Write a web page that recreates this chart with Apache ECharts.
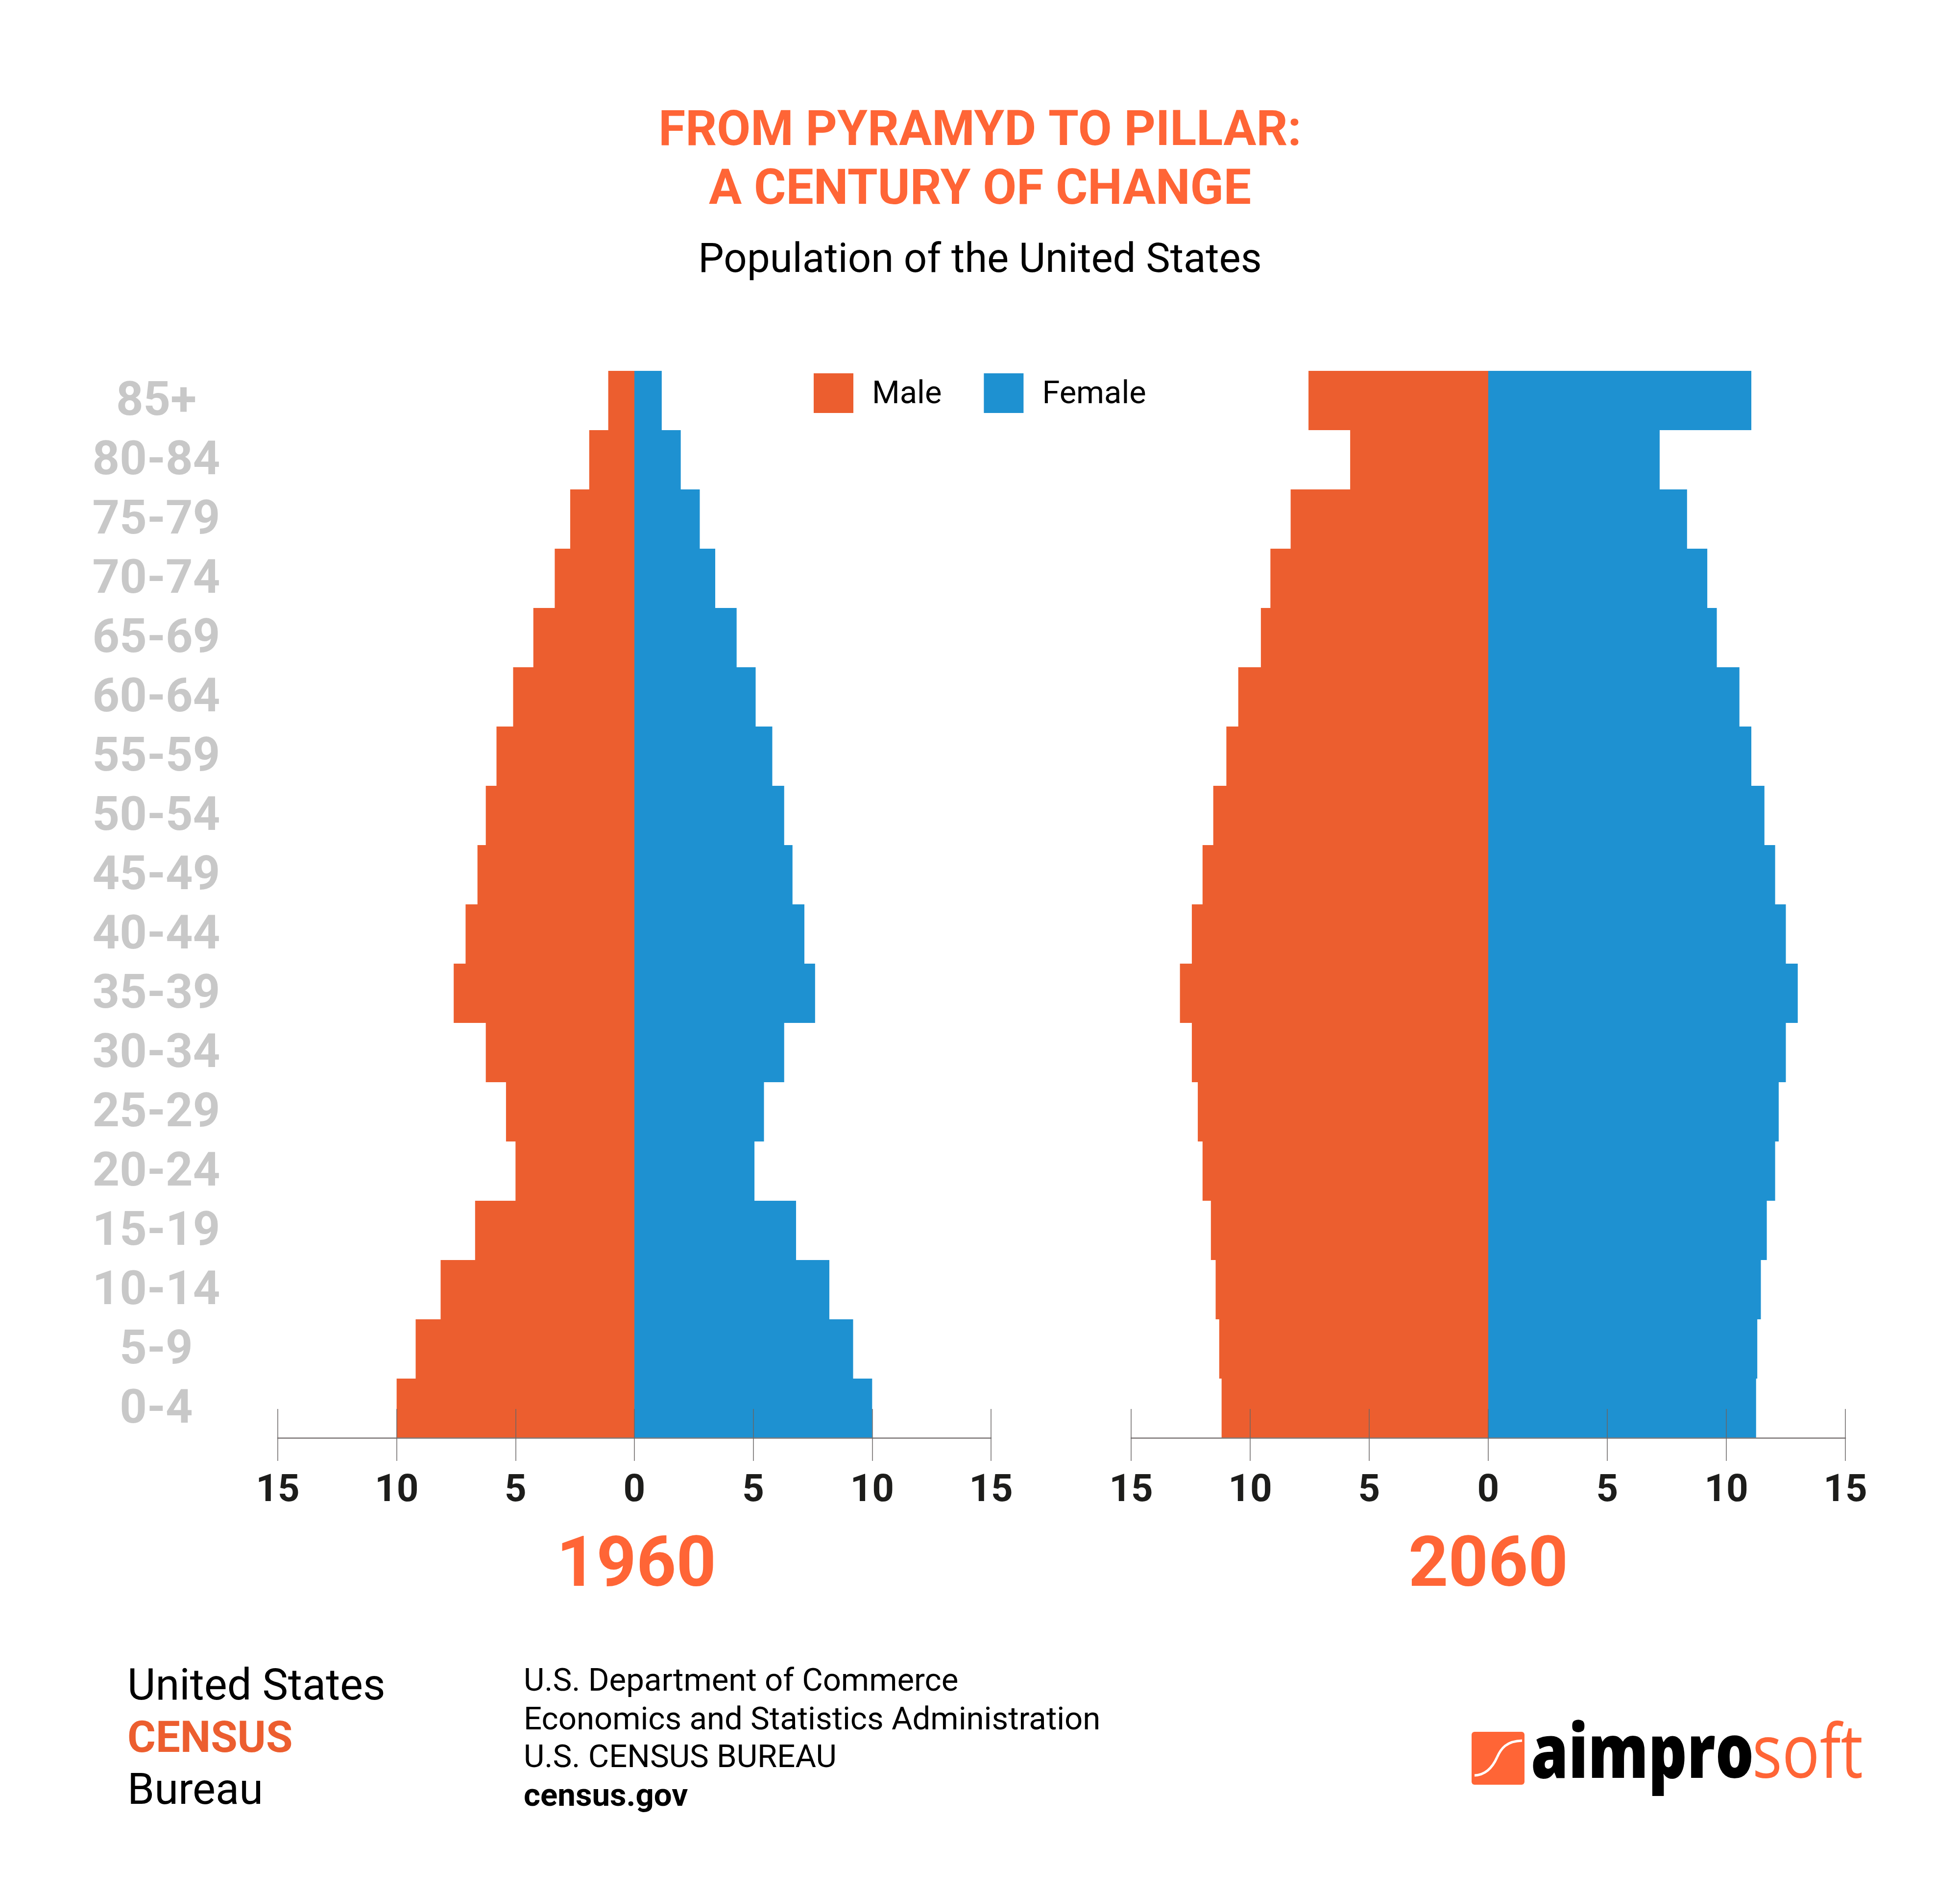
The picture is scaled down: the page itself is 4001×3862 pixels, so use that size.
<!DOCTYPE html>
<html>
<head>
<meta charset="utf-8">
<title>From pyramid to pillar</title>
<script src="https://cdn.jsdelivr.net/npm/echarts@6/dist/echarts.min.js"></script>
<style>
html, body { margin: 0; padding: 0; background: #fff; }
#main { width: 4001px; height: 3862px; }
</style>
</head>
<body>
<div id="main"></div>
<script>
var ageGroups = ['0-4', '5-9', '10-14', '15-19', '20-24', '25-29', '30-34', '35-39', '40-44',
    '45-49', '50-54', '55-59', '60-64', '65-69', '70-74', '75-79', '80-84', '85+'];

// percent of population, youngest group first
var male1960 = [10, 9.2, 8.15, 6.7, 5, 5.4, 6.25, 7.6, 7.1, 6.6, 6.25, 5.8, 5.1, 4.25, 3.35, 2.7, 1.9, 1.1];
var female1960 = [10, 9.2, 8.2, 6.8, 5.05, 5.45, 6.3, 7.6, 7.15, 6.65, 6.3, 5.8, 5.1, 4.3, 3.4, 2.75, 1.95, 1.15];
var male2060 = [11.2, 11.3, 11.45, 11.65, 12, 12.2, 12.45, 12.95, 12.45, 12, 11.55, 11, 10.5, 9.55, 9.15, 8.3, 5.8, 7.55];
var female2060 = [11.25, 11.3, 11.45, 11.7, 12.05, 12.2, 12.5, 13, 12.5, 12.05, 11.6, 11.05, 10.55, 9.6, 9.2, 8.35, 7.2, 11.05];

var years = ['1960', '2060'];
var seriesNames = ['Male', 'Female'];

var FONT = 'Roboto';
var ORANGE = '#ec5e2f';
var BLUE = '#1e91d1';
var TITLE_ORANGE = '#ff6536';

function negate(arr) {
    return arr.map(function (v) { return -v; });
}

function mainXAxis(gridIndex, year, namePad) {
    return {
        type: 'value',
        gridIndex: gridIndex,
        min: -15,
        max: 15,
        interval: 5,
        z: 5,
        name: year,
        nameLocation: 'middle',
        nameGap: 195,
        nameTextStyle: {
            color: TITLE_ORANGE,
            fontFamily: FONT,
            fontWeight: 'bold',
            fontSize: 142,
            padding: [0, 0, 0, namePad]
        },
        axisLine: { show: true, lineStyle: { color: '#7d7878', width: 2.5 } },
        axisTick: { show: true, length: 47, lineStyle: { color: '#6a6565', width: 1.5 } },
        axisLabel: {
            margin: 70,
            color: '#1d1d1b',
            fontFamily: FONT,
            fontWeight: 'bold',
            fontSize: 78,
            formatter: function (v) { return Math.abs(v); }
        },
        splitLine: { show: false }
    };
}

// same scale again, only to carry the upper half of the ticks
function upperTickAxis(gridIndex) {
    return {
        type: 'value',
        gridIndex: gridIndex,
        position: 'top',
        offset: -2178,
        min: -15,
        max: 15,
        interval: 5,
        z: 5,
        axisLine: { show: false },
        axisTick: { show: true, length: 59, lineStyle: { color: '#6a6565', width: 1.5 } },
        axisLabel: { show: false },
        splitLine: { show: false }
    };
}

function yAxis(gridIndex, showLabels) {
    return {
        type: 'category',
        gridIndex: gridIndex,
        data: ageGroups,
        axisLine: { show: false },
        axisTick: { show: false },
        splitLine: { show: false },
        axisLabel: {
            show: showLabels,
            interval: 0,
            margin: 248,
            align: 'center',
            verticalAlign: 'top',
            lineHeight: 10,   // labels sit a few px under the bar centre
            color: '#c8c8c8',
            fontFamily: FONT,
            fontWeight: 'bold',
            fontSize: 97
        }
    };
}

function barSeries(name, axisIndex, values, color) {
    return {
        name: name,
        type: 'bar',
        xAxisIndex: axisIndex * 2,
        yAxisIndex: axisIndex,
        stack: 'pop' + axisIndex,
        barWidth: '100%',
        barCategoryGap: 0,
        itemStyle: { color: color },
        data: values
    };
}

function plainText(x, y, text, size, weight, color) {
    return {
        type: 'text',
        x: x,
        y: y,
        style: {
            text: text,
            fontFamily: FONT,
            fontSize: size,
            fontWeight: weight,
            fill: color,
            verticalAlign: 'middle'
        }
    };
}

var myChart = echarts.init(document.getElementById('main'), null, { renderer: 'canvas', width: 4001, height: 3862 });

myChart.setOption({
    backgroundColor: '#fff',
    animation: false,
    title: [
        {
            text: 'FROM PYRAMYD TO PILLAR:\nA CENTURY OF CHANGE',
            left: 'center',
            top: 206,
            textStyle: { color: TITLE_ORANGE, fontFamily: FONT, fontWeight: 'bold', fontSize: 100, lineHeight: 120 }
        },
        {
            text: 'Population of the United States',
            left: 'center',
            top: 488,
            textStyle: { color: '#000', fontFamily: FONT, fontWeight: 'normal', fontSize: 83.3 }
        }
    ],
    legend: {
        data: seriesNames,
        left: 1656,
        top: 757,
        icon: 'rect',
        itemWidth: 81,
        itemHeight: 81,
        itemGap: 86,
        selectedMode: false,
        formatter: '{t|{name}}',
        textStyle: {
            color: '#000',
            fontFamily: FONT,
            fontSize: 65,
            padding: [0, 0, 0, 33],
            rich: { t: { fontFamily: FONT, fontSize: 65, color: '#000', padding: [8, 0, 0, 0] } }
        }
    },
    grid: [
        { left: 567, width: 1456, top: 757, height: 2178 },
        { left: 2309, width: 1458, top: 757, height: 2178 }
    ],
    xAxis: [mainXAxis(0, years[0], 8), upperTickAxis(0), mainXAxis(1, years[1], 0), upperTickAxis(1)],
    yAxis: [yAxis(0, true), yAxis(1, false)],
    series: [
        barSeries(seriesNames[0], 0, negate(male1960), ORANGE),
        barSeries(seriesNames[1], 0, female1960, BLUE),
        barSeries(seriesNames[0], 1, negate(male2060), ORANGE),
        barSeries(seriesNames[1], 1, female2060, BLUE)
    ],
    graphic: [
        plainText(260, 3447, 'United States', 88.5, 'normal', '#000'),
        plainText(260, 3554, 'CENSUS', 88.5, 'bold', ORANGE),
        plainText(260, 3660, 'Bureau', 88.5, 'normal', '#000'),
        plainText(1069, 3435, 'U.S. Department of Commerce', 65.3, 'normal', '#000'),
        plainText(1069, 3514, 'Economics and Statistics Administration', 65.3, 'normal', '#000'),
        plainText(1069, 3591, 'U.S. CENSUS BUREAU', 65.3, 'normal', '#000'),
        plainText(1069, 3670, 'census.gov', 65.3, 'bold', '#000'),
        // logo
        { type: 'rect', shape: { x: 3004, y: 3535, width: 108, height: 108, r: 6 }, style: { fill: TITLE_ORANGE } },
        {
            type: 'bezierCurve',
            shape: { x1: 3010, y1: 3624, cpx1: 3035, cpy1: 3623, cpx2: 3048, cpy2: 3605, x2: 3056, y2: 3587 },
            style: { fill: 'none', stroke: '#fff', lineWidth: 5 }
        },
        {
            type: 'bezierCurve',
            shape: { x1: 3056, y1: 3587, cpx1: 3064, cpy1: 3569, cpx2: 3075, cpy2: 3554, x2: 3107, y2: 3553 },
            style: { fill: 'none', stroke: '#fff', lineWidth: 5 }
        },
        {
            type: 'text', x: 3125, y: 3586, scaleX: 0.81,
            style: { text: 'aimpro', fontFamily: 'Open Sans', fontWeight: 800, fontSize: 152, fill: '#000', verticalAlign: 'middle' }
        },
        {
            type: 'text', x: 3577, y: 3586, scaleX: 0.84,
            style: { text: 'soft', fontFamily: 'Open Sans', fontWeight: 'normal', fontSize: 152, fill: TITLE_ORANGE, verticalAlign: 'middle' }
        }
    ]
});
</script>
</body>
</html>
